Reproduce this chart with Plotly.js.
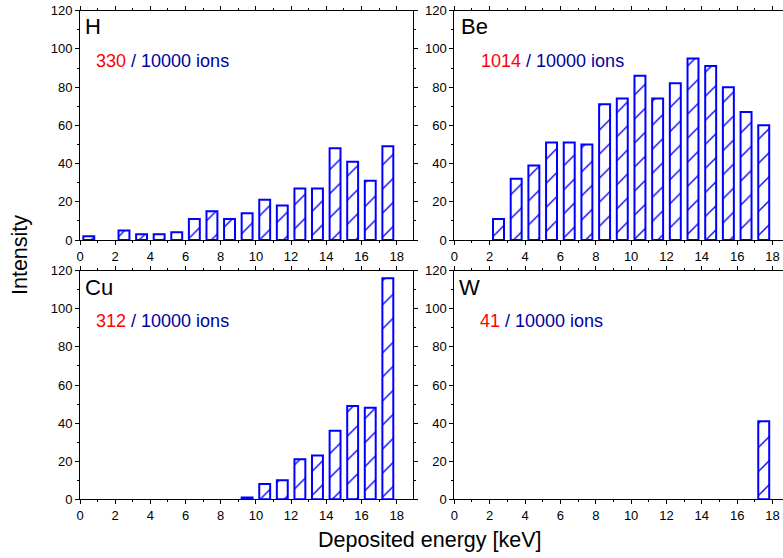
<!DOCTYPE html>
<html>
<head>
<meta charset="utf-8">
<script src="https://cdn.plot.ly/plotly-3.0.1.min.js"></script>
<style>html,body{margin:0;padding:0;background:#fff;}#chart{width:783px;height:558px;}</style>
</head>
<body>
<div id="chart"></div>
<script>
// Bin centres (keV)
const binCenters = [0.5,1.5,2.5,3.5,4.5,5.5,6.5,7.5,8.5,9.5,10.5,11.5,12.5,13.5,14.5,15.5,16.5,17.5];
// Counts per bin for each target
const hCounts  = [2,0,5,3,3,4,11,15,11,14,21,18,27,27,48,41,31,49];
const beCounts = [0,0,11,32,39,51,51,50,71,74,86,74,82,95,91,80,67,60];
const cuCounts = [0,0,0,0,0,0,0,0,0,1,8,10,21,23,36,49,48,116];
const wCounts  = [0,0,0,0,0,0,0,0,0,0,0,0,0,0,0,0,0,41];
const panelNames = ["H","Be","Cu","W"];
const hitCounts = ["330","1014","312","41"];
const ionsText = " / 10000 ions";
const xTitle = "Deposited energy [keV]";
const yTitle = "Intensity";

const W = 783, H = 558;
const px = v => v / W;
const py = v => 1 - v / H;

const FONT = "Liberation Sans, Arial, Helvetica, sans-serif";

function barTrace(vals, xa, ya) {
  return {
    type: "bar",
    x: binCenters,
    y: vals.map(v => v === 0 ? null : v),
    xaxis: xa, yaxis: ya,
    width: 0.62,
    marker: {
      color: "#ffffff",
      line: {color: "#0000ff", width: 2},
      pattern: {shape: "/", fgcolor: "#0000ff", bgcolor: "#ffffff", size: 17, solidity: 0.08}
    },
    hoverinfo: "skip",
    showlegend: false
  };
}

const data = [
  barTrace(hCounts, "x", "y"),
  barTrace(beCounts, "x2", "y2"),
  barTrace(cuCounts, "x3", "y3"),
  barTrace(wCounts, "x4", "y4")
];

function xAxis(domain, rmax, anchor) {
  return {
    domain: domain, range: [0, rmax], anchor: anchor,
    showline: true, linecolor: "#000", linewidth: 1, mirror: "ticks",
    ticks: "outside", ticklen: 4, tickwidth: 1, tickcolor: "#000",
    dtick: 2, tick0: 0,
    minor: {ticks: "outside", ticklen: 2, dtick: 1, tickcolor: "#000", showgrid: false},
    showgrid: false, zeroline: false,
    tickfont: {family: FONT, size: 13, color: "#000"}
  };
}
function yAxis(domain, anchor, mirror) {
  return {
    domain: domain, range: [0, 120], anchor: anchor,
    showline: true, linecolor: "#000", linewidth: 1, mirror: mirror,
    ticks: "outside", ticklen: 4, tickwidth: 1, tickcolor: "#000",
    dtick: 20, tick0: 0,
    minor: {ticks: "outside", ticklen: 2, dtick: 10, tickcolor: "#000", showgrid: false},
    showgrid: false, zeroline: false,
    tickfont: {family: FONT, size: 13, color: "#000"}
  };
}

const leftDom = [px(80), px(413)];
const rightDom = [px(454.3), 1];
const topDom = [py(240), py(10.7)];
const botDom = [py(499.3), py(270.7)];

const annotations = [];
const namePos = [[83, 27], [459, 27], [83, 287], [457, 287]];
const countPos = [[94, 61], [479, 61], [94, 321], [478, 321]];
for (let i = 0; i < 4; i++) {
  annotations.push({
    xref: "paper", yref: "paper", x: px(namePos[i][0]), y: py(namePos[i][1]),
    xanchor: "left", yanchor: "middle", showarrow: false,
    text: panelNames[i], font: {family: FONT, size: 22, color: "#000"}
  });
  annotations.push({
    xref: "paper", yref: "paper", x: px(countPos[i][0]), y: py(countPos[i][1]),
    xanchor: "left", yanchor: "middle", showarrow: false,
    text: '<span style="color:#ff0000">' + hitCounts[i] + '</span>' + ionsText,
    font: {family: FONT, size: 18, color: "#0000a0"}
  });
}
annotations.push({
  xref: "paper", yref: "paper", x: px(430), y: py(540),
  xanchor: "center", yanchor: "middle", showarrow: false,
  text: xTitle, font: {family: FONT, size: 21.5, color: "#000"}
});
annotations.push({
  xref: "paper", yref: "paper", x: px(20), y: py(255),
  xanchor: "center", yanchor: "middle", showarrow: false, textangle: -90,
  text: yTitle, font: {family: FONT, size: 21.5, color: "#000"}
});

const layout = {
  width: W, height: H,
  margin: {l: 0, r: 0, t: 0, b: 0},
  paper_bgcolor: "#fff", plot_bgcolor: "#fff",
  font: {family: FONT},
  bargap: 0,
  xaxis: xAxis(leftDom, 18.93, "y"),
  yaxis: yAxis(topDom, "x", "ticks"),
  xaxis2: xAxis(rightDom, 18.59, "y2"),
  yaxis2: yAxis(topDom, "x2", false),
  xaxis3: xAxis(leftDom, 18.93, "y3"),
  yaxis3: yAxis(botDom, "x3", "ticks"),
  xaxis4: xAxis(rightDom, 18.59, "y4"),
  yaxis4: yAxis(botDom, "x4", false),
  annotations: annotations
};

Plotly.newPlot("chart", data, layout, {staticPlot: true, displayModeBar: false});
</script>
</body>
</html>
